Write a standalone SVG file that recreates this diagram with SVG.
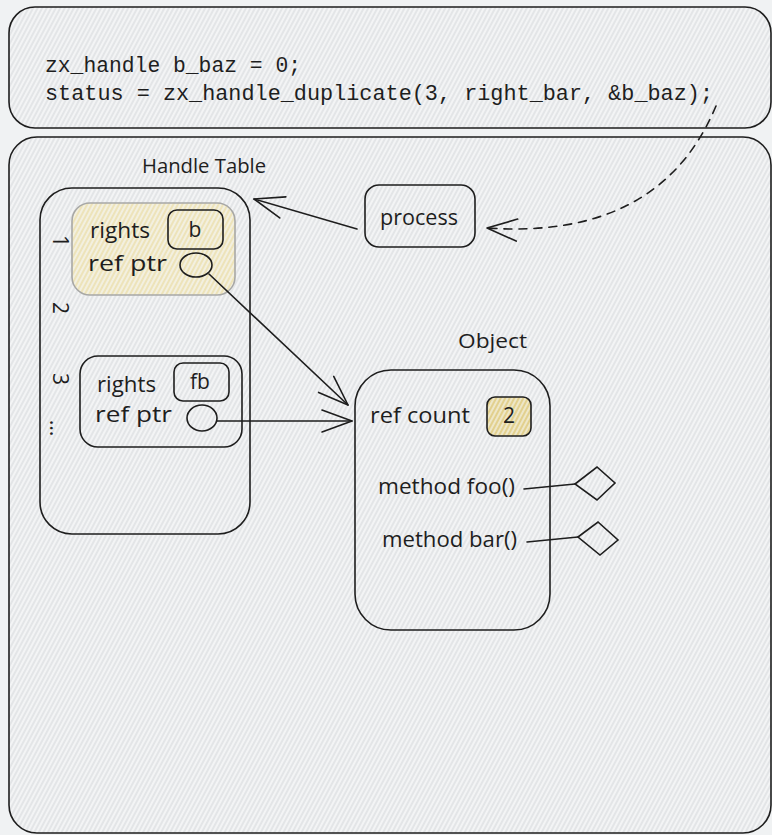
<svg xmlns="http://www.w3.org/2000/svg" width="772" height="835" viewBox="0 0 772 835">
  <defs>
    <!-- diagonal hatch fill used by every box -->
    <pattern id="hatch" width="4" height="4" patternUnits="userSpaceOnUse" patternTransform="rotate(28)">
      <rect width="4" height="4" fill="#f3f4f5"/>
      <line x1="1" y1="0" x2="1" y2="4" stroke="#d6dadc" stroke-width="1.1"/>
    </pattern>
    <!-- yellow hatch for highlighted entries -->
    <pattern id="hatch-yellow" width="4" height="4" patternUnits="userSpaceOnUse" patternTransform="rotate(28)">
      <rect width="4" height="4" fill="#f3f0e0"/>
      <line x1="1" y1="0" x2="1" y2="4" stroke="#eadba0" stroke-width="1.2"/>
    </pattern>
    <pattern id="hatch-gold" width="4" height="4" patternUnits="userSpaceOnUse" patternTransform="rotate(28)">
      <rect width="4" height="4" fill="#eee7c8"/>
      <line x1="1" y1="0" x2="1" y2="4" stroke="#dcc46f" stroke-width="1.3"/>
    </pattern>
    <marker id="open-arrow" viewBox="-32 -14 34 28" refX="0" refY="0" markerWidth="34" markerHeight="28" markerUnits="userSpaceOnUse" orient="auto">
      <path d="M-30,-11 L0,0 L-30,11" fill="none" stroke="#1e1e1e" stroke-width="1.6" stroke-linecap="round" stroke-linejoin="round"/>
    </marker>
    <style>
      .box { fill: url(#hatch); stroke: #1e1e1e; stroke-width: 1.6; }
      .hand { font-family: "Open Sans", "Liberation Sans", sans-serif; fill: #1e1e1e; }
      .code { font-family: "Liberation Mono", "DejaVu Sans Mono", monospace; font-size: 22px; fill: #1e1e1e; }
      .wire { fill: none; stroke: #1e1e1e; stroke-width: 1.6; stroke-linecap: round; }
    </style>
  </defs>

  <rect width="772" height="835" fill="#f0f2f3"/>

  <!-- code snippet frame -->
  <g id="code-frame">
    <rect class="box" x="9" y="7" width="762" height="121" rx="26"/>
    <text class="code" x="45" y="72" textLength="256" lengthAdjust="spacingAndGlyphs">zx_handle b_baz = 0;</text>
    <text class="code" x="45" y="100" textLength="668" lengthAdjust="spacingAndGlyphs">status = zx_handle_duplicate(3, right_bar, &amp;b_baz);</text>
  </g>

  <!-- kernel frame -->
  <g id="kernel-frame">
    <rect class="box" x="9" y="137" width="762" height="696" rx="28"/>
  </g>

  <!-- handle table -->
  <g id="handle-table">
    <text class="hand" x="142" y="173" font-size="20" textLength="124" lengthAdjust="spacingAndGlyphs">Handle Table</text>
    <rect class="box" x="40" y="188" width="210" height="346" rx="32"/>
    <text class="hand" font-size="21" transform="translate(61,241) rotate(90)" text-anchor="middle" dominant-baseline="central">1</text>
    <text class="hand" font-size="21" transform="translate(61,308) rotate(90)" text-anchor="middle" dominant-baseline="central">2</text>
    <text class="hand" font-size="21" transform="translate(61,379) rotate(90)" text-anchor="middle" dominant-baseline="central">3</text>
    <text class="hand" font-size="21" transform="translate(58,428) rotate(90)" text-anchor="middle" dominant-baseline="central">...</text>
  </g>

  <g id="entry-1">
    <rect x="72" y="203" width="163" height="92" rx="18" fill="url(#hatch-yellow)" stroke="#a8a8a6" stroke-width="1.6"/>
    <text class="hand" x="90" y="238" font-size="21" textLength="60" lengthAdjust="spacingAndGlyphs">rights</text>
    <text class="hand" x="88" y="271" font-size="21" textLength="79" lengthAdjust="spacingAndGlyphs">ref ptr</text>
    <rect x="168" y="210" width="55" height="39" rx="9" fill="none" stroke="#1e1e1e" stroke-width="1.6"/>
    <text class="hand" x="195" y="237" font-size="21" text-anchor="middle">b</text>
    <ellipse cx="196" cy="265" rx="16" ry="12" fill="none" stroke="#1e1e1e" stroke-width="1.6"/>
  </g>

  <g id="entry-3">
    <rect class="box" x="80" y="356" width="162" height="91" rx="18"/>
    <text class="hand" x="97" y="392" font-size="21" textLength="59" lengthAdjust="spacingAndGlyphs">rights</text>
    <text class="hand" x="95" y="422" font-size="21" textLength="77" lengthAdjust="spacingAndGlyphs">ref ptr</text>
    <rect x="174" y="363" width="55" height="38" rx="9" fill="none" stroke="#1e1e1e" stroke-width="1.6"/>
    <text class="hand" x="200" y="389" font-size="21" text-anchor="middle">fb</text>
    <ellipse cx="202" cy="418" rx="15" ry="13" fill="none" stroke="#1e1e1e" stroke-width="1.6"/>
  </g>

  <!-- process -->
  <g id="process">
    <rect class="box" x="365" y="185" width="110" height="62" rx="14"/>
    <text class="hand" x="380" y="225" font-size="21" textLength="78" lengthAdjust="spacingAndGlyphs">process</text>
  </g>

  <!-- kernel object -->
  <g id="object">
    <text class="hand" x="458" y="348" font-size="20" textLength="69" lengthAdjust="spacingAndGlyphs">Object</text>
    <rect class="box" x="355" y="370" width="195" height="260" rx="36"/>
    <text class="hand" x="370" y="423" font-size="21" textLength="100" lengthAdjust="spacingAndGlyphs">ref count</text>
    <rect x="487" y="397" width="44" height="39" rx="8" fill="url(#hatch-gold)" stroke="#1e1e1e" stroke-width="1.6"/>
    <text class="hand" x="509" y="423" font-size="21" text-anchor="middle">2</text>
    <text class="hand" x="378" y="494" font-size="21" textLength="137" lengthAdjust="spacingAndGlyphs">method foo()</text>
    <text class="hand" x="382" y="547" font-size="21" textLength="135" lengthAdjust="spacingAndGlyphs">method bar()</text>
  </g>

  <g id="method-foo">
    <path class="box" d="M575,484 L597,467 L615,483 L597,500 Z"/>
  </g>
  <g id="method-bar">
    <path class="box" d="M578,537 L598,522 L618,540 L600,555 Z"/>
  </g>

  <!-- connectors -->
  <g id="connectors">
    <path class="wire" d="M357,229 L254,199" marker-end="url(#open-arrow)"/>
    <path class="wire" d="M209,274 L348,405" marker-end="url(#open-arrow)"/>
    <path class="wire" d="M217,421 L352,421" marker-end="url(#open-arrow)"/>
    <path class="wire" d="M716,106 Q660,240 487,228" stroke-dasharray="8 7" marker-end="url(#open-arrow)"/>
    <path class="wire" d="M524,489 L575,484"/>
    <path class="wire" d="M527,542 L578,537"/>
  </g>
</svg>
